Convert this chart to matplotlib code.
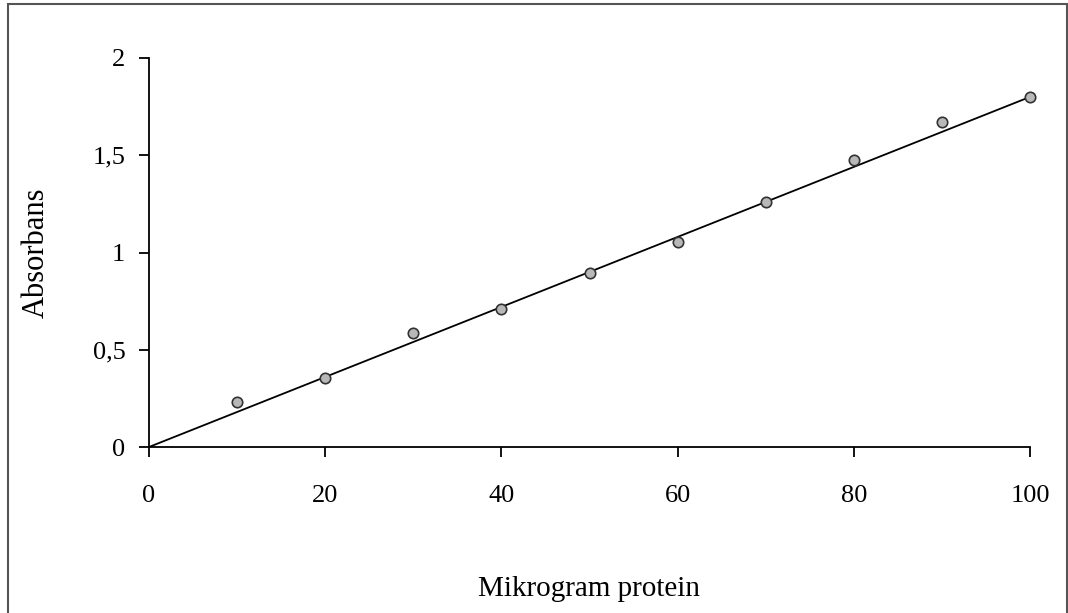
import numpy as np
import matplotlib
matplotlib.use('Agg')
import matplotlib.pyplot as plt
from matplotlib.patches import Rectangle

# data
mikrogram = [10, 20, 30, 40, 50, 60, 70, 80, 90, 100]
absorbans = [0.23, 0.355, 0.586, 0.71, 0.895, 1.054, 1.26, 1.475, 1.67, 1.80]
trend_x = [0, 100]
trend_y = [0, 1.80]
x_ticks = [0, 20, 40, 60, 80, 100]
y_ticks = [0, 0.5, 1, 1.5, 2]
y_ticklabels = ['0', '0,5', '1', '1,5', '2']

plt.rcParams['font.family'] = ['Liberation Serif', 'DejaVu Serif']

fig = plt.figure(figsize=(10.68, 6.13), dpi=100)
ax = fig.add_axes([149 / 1068, 1 - 447 / 613, (1030 - 149) / 1068, (447 - 58) / 613])

# linear trendline
ax.plot(trend_x, trend_y, color='black', lw=1.3, zorder=2)

ax.plot(mikrogram, absorbans, 'o', ms=7.5, mfc='#b8b8b8', mec='#333333', mew=1.2, zorder=3,
        clip_on=False)

ax.set_xlim(0, 100)
ax.set_ylim(0, 2)
ax.set_xticks(x_ticks)
ax.set_yticks(y_ticks)
ax.set_yticklabels(y_ticklabels)

for s in ['top', 'right']:
    ax.spines[s].set_visible(False)
for s in ['left', 'bottom']:
    ax.spines[s].set_linewidth(1.3)
    ax.spines[s].set_color('black')

ax.tick_params(axis='both', direction='out', length=7, width=1.3, labelsize=19, colors='black')
ax.tick_params(axis='x', pad=20)
ax.tick_params(axis='y', pad=10)

ax.set_xlabel('Mikrogram protein', fontsize=21, labelpad=50)
ax.set_ylabel('Absorbans', fontsize=22, labelpad=30)

# outer border of the chart area
fig.patches.append(Rectangle((8 / 1068, -0.01), (1067 - 8) / 1068, 1 - 4 / 613 + 0.01,
                             transform=fig.transFigure, fill=False, edgecolor='#555555', lw=1.5))

fig.savefig('out.png', dpi=100)
